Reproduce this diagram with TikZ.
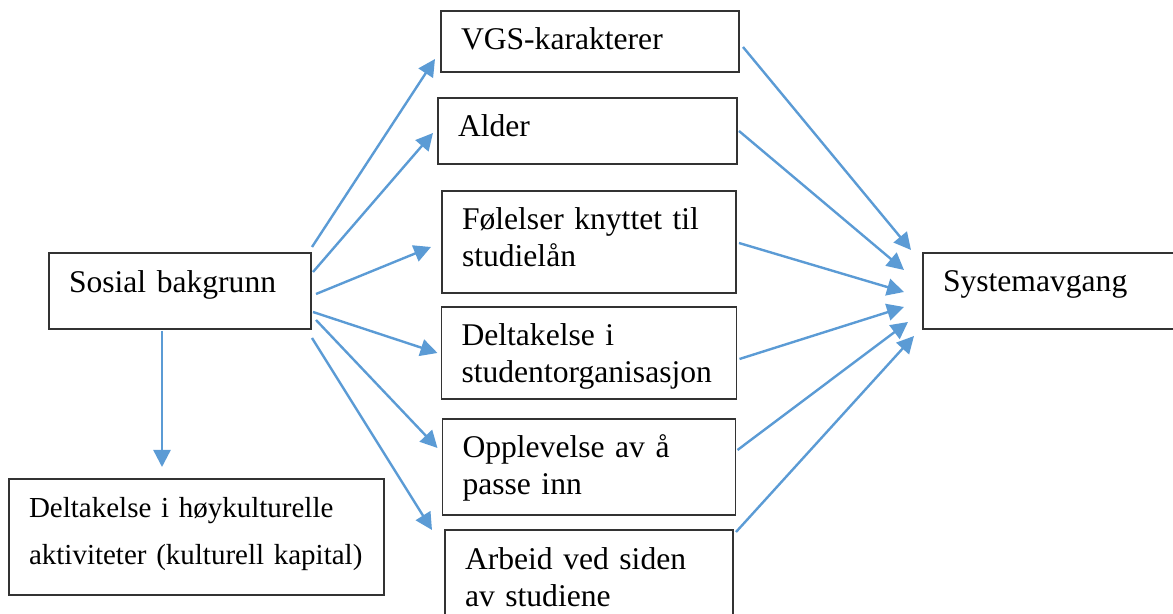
\documentclass[tikz,border=0pt]{standalone}
\usepackage{fontspec}
\setmainfont{Liberation Serif}
\usetikzlibrary{positioning, arrows.meta}
\definecolor{arrowblue}{RGB}{91,155,213}
\hyphenpenalty=10000

\begin{document}
\begin{tikzpicture}[x=0.5pt, y=-0.5pt, >={Triangle[length=8.5pt, width=8.5pt]},
        box/.style={draw=black!80, line width=0.75pt, inner xsep=10pt, inner ysep=0pt, outer sep=0pt,
            align=left, text height=19.5pt, font=\fontsize{15.8}{18.5}\selectfont},
        arr/.style={->, color=arrowblue, line width=1.2pt}]
        \useasboundingbox (0,0) rectangle (1173,614);
        % middle column
        \node[box, text width=129pt, text depth=11pt] (vgs) at (590,41.5) {VGS-karakterer};
        \node[box, text width=129.5pt, text depth=13.5pt, below=13pt of vgs, xshift=-1.25pt] (alder) {Alder};
        \node[box, text width=127pt, text depth=31.5pt, below=13.5pt of alder, xshift=0.75pt] (folelser) {Følelser knyttet til\\studielån};
        \node[box, text width=127.5pt, text depth=26.5pt, below=7pt of folelser] (deltak) {Deltakelse i\\studentorganisasjon};
        \node[box, text width=126.5pt, text depth=28.5pt, below=10pt of deltak] (oppleve) {Opplevelse av å\\passe inn};
        \node[box, text width=124pt, text depth=30.5pt, below=7.5pt of oppleve] (arbeid) {Arbeid ved siden\\av studiene};
        % left and right
        \node[box, text width=111pt, text height=20pt, text depth=18pt] (sosial) at (180,291) {Sosial bakgrunn};
        \node[box, text width=167.5pt, text height=19pt, text depth=39pt, font=\fontsize{14.5}{24}\selectfont] (kultur) at (196.5,537) {Deltakelse i høykulturelle\\aktiviteter (kulturell kapital)};
        \node[box, text width=113.5pt, text depth=18.5pt] (system) at (1056.5,291) {Systemavgang};
        % arrows out of sosial bakgrunn
        \draw[arr] ([shift={(1,-6)}]sosial.north east) -- ([shift={(-6,48)}]vgs.north west);
        \draw[arr] ([shift={(2,19)}]sosial.north east) -- ([shift={(-5,35)}]alder.north west);
        \draw[arr] ([shift={(5,3)}]sosial.east) -- ([shift={(-11,5)}]folelser.west);
        \draw[arr] ([shift={(2,21)}]sosial.east) -- ([shift={(-4,0)}]deltak.west);
        \draw[arr] ([shift={(5,29)}]sosial.east) -- ([shift={(-5,-19)}]oppleve.west);
        \draw[arr] ([shift={(1,9)}]sosial.south east) -- ([shift={(-13,0)}]arbeid.north west);
        \draw[arr] ([shift={(-18,2)}]sosial.south) -- ([shift={(-34.5,-12)}]kultur.north);
        % arrows into systemavgang
        \draw[arr] ([shift={(4,5.5)}]vgs.east) -- ([shift={(-12,-3)}]system.north west);
        \draw[arr] ([shift={(2,0)}]alder.east) -- ([shift={(-19,-21)}]system.west);
        \draw[arr] ([shift={(3,1)}]folelser.east) -- ([shift={(-19,1)}]system.west);
        \draw[arr] ([shift={(3,6)}]deltak.east) -- ([shift={(-19,16)}]system.west);
        \draw[arr] ([shift={(2,-17)}]oppleve.east) -- ([shift={(-15,31)}]system.west);
        \draw[arr] ([shift={(3,2)}]arbeid.north east) -- ([shift={(-9,45)}]system.west);
    \end{tikzpicture}
\end{document}
